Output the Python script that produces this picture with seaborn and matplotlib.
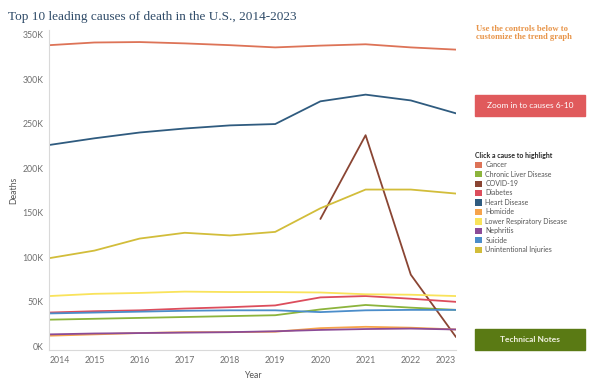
import numpy as np
import pandas as pd
import matplotlib
matplotlib.use('Agg')
import matplotlib.pyplot as plt
import seaborn as sns
from matplotlib.patches import Rectangle, Patch

# Dados (mortes)
years = [2014, 2015, 2016, 2017, 2018, 2019, 2020, 2021, 2022, 2023]
cancer = [338000, 341000, 341500, 340000, 338000, 335500, 337500, 339000, 335500, 333000]
liver = [30000, 31000, 32000, 33000, 34000, 35000, 41500, 46500, 43500, 41000]
covid = [np.nan, np.nan, np.nan, np.nan, np.nan, np.nan, 143000, 237000, 80500, 10500]
diabetes = [38000, 39500, 40500, 42500, 44000, 46000, 55000, 56500, 53500, 50000]
heart = [226000, 233500, 240000, 244500, 248000, 249500, 275000, 282500, 276000, 261500]
homicide = [12000, 13500, 15000, 16000, 16000, 16500, 20500, 22000, 21000, 19000]
lower_resp = [56500, 59000, 60000, 61500, 61000, 61000, 60500, 58500, 58000, 56500]
nephritis = [13500, 14500, 15000, 15500, 16000, 17000, 18500, 19500, 20000, 19000]
suicide = [37000, 38000, 39000, 40000, 40500, 40500, 38500, 40500, 41000, 41000]
injuries = [99000, 107500, 121000, 127500, 124500, 128500, 155000, 176000, 176000, 171500]

causes = ['Cancer', 'Chronic Liver Disease', 'COVID-19', 'Diabetes', 'Heart Disease',
          'Homicide', 'Lower Respiratory Disease', 'Nephritis', 'Suicide',
          'Unintentional Injuries']
series = [cancer, liver, covid, diabetes, heart, homicide, lower_resp, nephritis,
          suicide, injuries]
colors = ['#dd7357', '#8cb43c', '#8a4533', '#dc4d5c', '#2f5b7f',
          '#f6a34b', '#f9e35b', '#8b4b97', '#4b8dca', '#d2bd3a']

rows = []
for cause, vals in zip(causes, series):
    for y, v in zip(years, vals):
        rows.append({'Year': y, 'Deaths': v, 'Cause': cause})
df = pd.DataFrame(rows).dropna()

sns.set_style('white')
plt.rcParams['font.family'] = ['Lato', 'DejaVu Sans']

fig = plt.figure(figsize=(6, 3.8), dpi=100)
ax = fig.add_axes([0.082, 0.079, 0.678, 0.842])

sns.lineplot(data=df, x='Year', y='Deaths', hue='Cause', hue_order=causes,
             palette=colors, linewidth=1.3, legend=False, ax=ax)

ax.set_xlim(2014, 2023)
ax.set_ylim(-4000, 355000)
ax.set_xticks(years)
ax.set_xticklabels([str(y) for y in years])
yt = list(range(0, 350001, 50000))
ax.set_yticks(yt)
ax.set_yticklabels([f'{v // 1000}K' for v in yt])
ax.tick_params(labelsize=6.3, labelcolor='#707070', length=0, pad=4)
xl = ax.get_xticklabels()
xl[0].set_ha('left')
xl[-1].set_ha('right')
ax.set_xlabel('Year', fontsize=6.3, color='#555555', labelpad=5)
ax.set_ylabel('Deaths', fontsize=6.3, color='#555555')
ax.yaxis.set_label_coords(-0.076, 0.5)
for s in ['top', 'right']:
    ax.spines[s].set_visible(False)
for s in ['left', 'bottom']:
    ax.spines[s].set_color('#d9d9d9')
    ax.spines[s].set_linewidth(0.8)

fig.text(0.013, 0.955, 'Top 10 leading causes of death in the U.S., 2014-2023',
         fontsize=9.5, color='#2f4b68', family='Liberation Serif', va='center')

# painel da direita
fig.text(0.793, 0.913, 'Use the controls below to\ncustomize the trend graph',
         fontsize=6.2, color='#e8954a', family='Liberation Serif', weight='bold',
         va='center', linespacing=1.1)

fig.patches.append(Rectangle((0.792, 1 - 116 / 380), 0.183, 21 / 380,
                             transform=fig.transFigure, color='#e05a5c'))
fig.text(0.8835, 1 - 105.5 / 380, 'Zoom in to causes 6-10', fontsize=6,
         color='white', ha='center', va='center')

fig.patches.append(Rectangle((0.792, 1 - 350 / 380), 0.183, 21 / 380,
                             transform=fig.transFigure, color='#5a7a14'))
fig.text(0.8835, 1 - 339.5 / 380, 'Technical Notes', fontsize=6,
         color='#f0f0e0', weight='bold', ha='center', va='center')

handles = [Patch(facecolor=c, edgecolor='none') for c in colors]
leg = fig.legend(handles, causes, loc='upper left', bbox_to_anchor=(0.787, 1 - 149 / 380),
                 frameon=False, fontsize=5.0, title='Click a cause to highlight',
                 title_fontproperties={'size': 5.0, 'weight': 'bold'},
                 handlelength=1.0, handleheight=1.0, handletextpad=0.5,
                 labelspacing=0.35, borderaxespad=0)
leg._legend_box.align = 'left'
for t in leg.get_texts():
    t.set_color('#555555')

plt.savefig('out.png', dpi=100)
